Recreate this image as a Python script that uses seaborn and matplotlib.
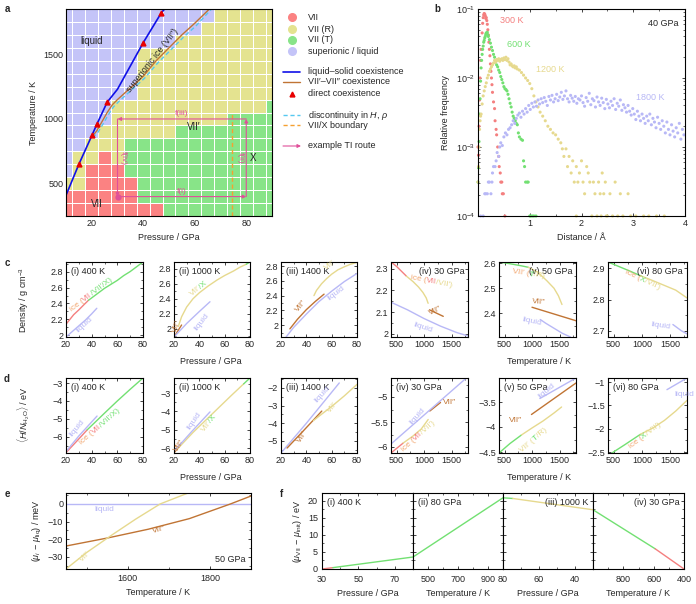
import numpy as np
import pandas as pd
import seaborn as sns
import matplotlib
matplotlib.use('Agg')
import matplotlib.pyplot as plt
from matplotlib import transforms
from matplotlib.colors import ListedColormap
from matplotlib.ticker import FuncFormatter, AutoMinorLocator

sns.set_style('ticks')
plt.rcParams['font.family'] = ['Liberation Sans', 'DejaVu Sans']
plt.rcParams['mathtext.fontset'] = 'custom'
plt.rcParams['mathtext.rm'] = 'Liberation Sans'
plt.rcParams['mathtext.it'] = 'Liberation Sans:italic'
plt.rcParams['font.size'] = 6.5

RED, YEL, GRN, LAV = '#f47f7f', '#e6d98e', '#72e072', '#b8b8f6'
BRN, BLU, CYN, ORG, MAG, ICE = '#c07434', '#1010e8', '#55c8f0', '#f5a030', '#e0509a', '#f2a872'
MAPCOL = ['#fb8282', '#e4e390', '#88e488', '#c4c4f8']

# ---------------- panel a: phase map ----------------
a_P = [10, 15, 20, 25, 30, 35, 40, 45, 50, 55, 60, 65, 70, 75, 80, 85, 90]
a_T = [1800, 1700, 1600, 1500, 1400, 1300, 1200, 1100, 1000, 900, 800, 700, 600, 500, 400, 300]
a_phase = ["LLLLLLLLLLLLYYYYY",
           "LLLLLLLLLLLYYYYYY",
           "LLLLLLLLLYYYYYYYY",
           "LLLLLLYYYYYYYYYYY",
           "LLLLLLYYYYYYYYYYY",
           "LLLLLLYYYYYYYYYYY",
           "LLLLLLYYYYYYYYYYY",
           "LLLLYYYYYYYYYYYYG",
           "LLLLYYYYYYYYYGGGG",
           "LLLYYYYYYGGGGGGGG",
           "LLYYYGGGGGGGGGGGG",
           "LYYRYGGGGGGGGGGGG",
           "LYRRRGGGGGGGGGGGG",
           "YYRRRRGGGGGGGGGGG",
           "RRRRRRGGGGGGGGGGG",
           "RRRRRRRRGGGGGGGGG"]
melt_P = [10, 15, 20, 22, 26, 30, 40, 47, 48.3]
melt_T = [410, 650, 870, 960, 1130, 1230, 1590, 1820, 1850]
direct_P = [15, 20, 22, 26, 40, 47]
direct_T = [650, 875, 960, 1130, 1590, 1820]
vii_P = [20, 22, 24, 26, 28, 30, 35, 40, 45, 50, 55, 60, 65.7]
vii_T = [860, 910, 980, 1050, 1110, 1150, 1240, 1330, 1450, 1550, 1650, 1740, 1850]
disc_P = [20.5, 22.5, 24.5, 26.5, 28.5, 30.5, 35.5, 40.5, 45.5, 50.5, 55.5, 60.5, 66.5]
disc_T = [855, 900, 965, 1035, 1095, 1135, 1225, 1315, 1430, 1530, 1630, 1720, 1850]
vx_P = [74.5, 74.5]
vx_T = [250, 1050]
route = [(30, 400), (80, 400), (80, 1000), (30, 1000), (30, 400)]

# ---------------- panel b: distance histograms ----------------
d300 = [0.01, 0.02, 0.03, 0.04, 0.05, 0.06, 0.08, 0.09, 0.10, 0.11, 0.12, 0.13, 0.14, 0.15, 0.16, 0.17,
        0.18, 0.19, 0.20, 0.21, 0.22, 0.23, 0.24, 0.25, 0.26, 0.27, 0.28, 0.30, 0.32, 0.33, 0.35, 0.36,
        0.38, 0.40, 0.41, 0.43, 0.44, 0.46, 0.47, 0.49, 0.52, 0.00]
f300 = [7.6e-4, 2e-3, 4.8e-3, 1e-2, 1.8e-2, 2.6e-2, 4.5e-2, 6.2e-2, 7.5e-2, 8.2e-2, 8.6e-2, 8.4e-2, 8e-2,
        7.3e-2, 7.5e-2, 6.8e-2, 6e-2, 5e-2, 4.2e-2, 3.3e-2, 2.6e-2, 2.1e-2, 1.6e-2, 1.25e-2, 1e-2, 8e-3,
        6.2e-3, 4.5e-3, 3.6e-3, 2.4e-3, 1.8e-3, 1.5e-3, 1e-3, 7.3e-4, 5.2e-4, 4.2e-4, 3.1e-4, 3.1e-4,
        2.1e-4, 2.1e-4, 1e-4, 1e-3]
d600 = [0.00, 0.01, 0.02, 0.03, 0.04, 0.05, 0.06, 0.07, 0.08, 0.09, 0.10, 0.11, 0.12, 0.13, 0.14, 0.15,
        0.16, 0.17, 0.18, 0.19, 0.20, 0.22, 0.24, 0.26, 0.28, 0.30, 0.32, 0.34, 0.36, 0.38, 0.40, 0.42,
        0.44, 0.46, 0.48, 0.50, 0.52, 0.54, 0.56, 0.58, 0.60, 0.62, 0.64, 0.66, 0.68, 0.70, 0.72, 0.74,
        0.76, 0.78, 0.80, 0.83, 0.86, 0.88, 0.90, 0.92, 0.95, 0.97, 1.00, 1.02, 1.05, 1.08, 1.12]
f600 = [3.1e-4, 5e-4, 1.2e-3, 3e-3, 5e-3, 9e-3, 1.4e-2, 1.8e-2, 2.2e-2, 2.6e-2, 2.9e-2, 3.3e-2, 3.5e-2,
        3.8e-2, 4e-2, 4.3e-2, 4.5e-2, 4.4e-2, 4.6e-2, 4.2e-2, 4e-2, 3.6e-2, 3.2e-2, 2.8e-2, 2.5e-2, 2.2e-2,
        2e-2, 1.7e-2, 1.55e-2, 1.45e-2, 1.3e-2, 1.2e-2, 1.05e-2, 9.5e-3, 8.5e-3, 7.5e-3, 7e-3, 6.8e-3,
        6.5e-3, 5.8e-3, 5e-3, 4.3e-3, 3.8e-3, 3.2e-3, 2.8e-3, 2.6e-3, 2.4e-3, 2.2e-3, 2.1e-3, 1.6e-3,
        1.4e-3, 1.3e-3, 1.25e-3, 6.3e-4, 5.2e-4, 3.1e-4, 3.1e-4, 3.1e-4, 1e-4, 1e-4, 1e-4, 1e-4, 1e-4]
d1200 = [0.00, 0.01, 0.02, 0.03, 0.04, 0.05, 0.06, 0.08, 0.10, 0.12, 0.14, 0.16, 0.18, 0.20, 0.22, 0.24,
         0.26, 0.28, 0.30, 0.32, 0.34, 0.36, 0.38, 0.40, 0.42, 0.44, 0.46, 0.48, 0.50, 0.52, 0.54, 0.56,
         0.58, 0.60, 0.62, 0.64, 0.66, 0.68, 0.70, 0.72, 0.74, 0.76, 0.80, 0.84, 0.88, 0.92, 0.96, 1.00,
         1.04, 1.08, 1.12, 1.16, 1.20, 1.25, 1.30, 1.35, 1.40, 1.45, 1.50, 1.55, 1.60, 1.63, 1.66, 1.70,
         1.73, 1.76, 1.80, 1.83, 1.86, 1.90, 1.93, 1.96, 2.00, 2.03, 2.06, 2.10, 2.13, 2.16, 2.20, 2.23,
         2.26, 2.30, 2.33, 2.36, 2.40, 2.43, 2.46, 2.50, 2.55, 2.60, 2.65, 2.70, 2.75, 2.80, 2.90, 2.95,
         3.05, 3.20, 3.30, 3.45, 3.60, 1.90, 2.38, 2.48]
f1200 = [3.1e-4, 5.2e-4, 1e-3, 1.8e-3, 2.4e-3, 2.8e-3, 3e-3, 4.2e-3, 5.5e-3, 6.5e-3, 7.5e-3, 8.5e-3, 1e-2,
         1.1e-2, 1.25e-2, 1.35e-2, 1.45e-2, 1.55e-2, 1.65e-2, 1.8e-2, 1.7e-2, 1.85e-2, 1.8e-2, 1.9e-2,
         1.75e-2, 1.85e-2, 1.9e-2, 1.8e-2, 1.95e-2, 1.85e-2, 2e-2, 1.8e-2, 1.9e-2, 1.7e-2, 1.55e-2, 1.6e-2,
         1.5e-2, 1.45e-2, 1.5e-2, 1.4e-2, 1.45e-2, 1.35e-2, 1.3e-2, 1.2e-2, 1.1e-2, 1e-2, 9.2e-3, 8.3e-3,
         7e-3, 5.5e-3, 4.5e-3, 3.8e-3, 3.2e-3, 2.8e-3, 2.4e-3, 2e-3, 1.8e-3, 1.6e-3, 1.5e-3, 1.3e-3,
         1.15e-3, 9.4e-4, 7.3e-4, 9.4e-4, 5.2e-4, 7.3e-4, 4.2e-4, 6.3e-4, 3.1e-4, 5.2e-4, 3.1e-4, 4.2e-4,
         6.3e-4, 3.1e-4, 2.1e-4, 5.2e-4, 4.2e-4, 3.1e-4, 1e-4, 3.1e-4, 2.1e-4, 1e-4, 3.1e-4, 2.1e-4,
         4.2e-4, 2.1e-4, 3.1e-4, 1e-4, 2.1e-4, 1e-4, 3.1e-4, 1e-4, 2.1e-4, 1e-4, 2.1e-4, 1e-4, 1e-4, 1e-4,
         1e-4, 1e-4, 1e-4, 1e-4, 1e-4, 1e-4]
d1800 = [0.05, 0.10, 0.13, 0.15, 0.18, 0.20, 0.22, 0.25, 0.27, 0.28, 0.30, 0.33, 0.35, 0.37, 0.40, 0.42,
         0.44, 0.47, 0.50, 0.53, 0.56, 0.59, 0.62, 0.65, 0.68, 0.71, 0.74, 0.77, 0.80, 0.83, 0.86, 0.89,
         0.92, 0.95, 0.98, 1.01, 1.04, 1.07, 1.10, 1.13, 1.16, 1.19, 1.22, 1.25, 1.28, 1.31, 1.34, 1.37,
         1.40, 1.43, 1.46, 1.49, 1.52, 1.55, 1.58, 1.61, 1.64, 1.67, 1.70, 1.73, 1.76, 1.79, 1.82, 1.85,
         1.88, 1.91, 1.94, 1.97, 2.00, 2.03, 2.06, 2.09, 2.12, 2.15, 2.18, 2.21, 2.24, 2.27, 2.30, 2.33,
         2.36, 2.39, 2.42, 2.45, 2.48, 2.51, 2.54, 2.57, 2.60, 2.63, 2.66, 2.69, 2.72, 2.75, 2.78, 2.81,
         2.84, 2.87, 2.90, 2.93, 2.96, 2.99, 3.02, 3.05, 3.08, 3.11, 3.14, 3.17, 3.20, 3.23, 3.26, 3.29,
         3.32, 3.35, 3.38, 3.41, 3.44, 3.47, 3.50, 3.53, 3.56, 3.59, 3.62, 3.65, 3.68, 3.71, 3.74, 3.77,
         3.80, 3.83, 3.86, 3.89, 3.92, 3.95, 3.98]
f1800 = [1e-4, 1e-4, 2.1e-4, 2.1e-4, 2.1e-4, 3.1e-4, 3.1e-4, 2.1e-4, 3.1e-4, 4.2e-4, 5.2e-4, 5.2e-4, 6.3e-4,
         8.3e-4, 7.3e-4, 1e-3, 1.15e-3, 1.05e-3, 1.4e-3, 1.6e-3, 1.5e-3, 1.8e-3, 1.9e-3, 2.1e-3, 2.4e-3,
         2.2e-3, 2.6e-3, 2.9e-3, 3.1e-3, 2.7e-3, 3.3e-3, 3e-3, 3.6e-3, 3.2e-3, 4e-3, 3.5e-3, 4.3e-3, 3.8e-3,
         4.5e-3, 3.9e-3, 4.8e-3, 4.2e-3, 5e-3, 4.4e-3, 5.2e-3, 4.6e-3, 4e-3, 5.4e-3, 4.8e-3, 5.6e-3, 4.5e-3,
         5e-3, 5.8e-3, 4.7e-3, 5.3e-3, 6.2e-3, 4.9e-3, 5.5e-3, 6.5e-3, 5e-3, 4.5e-3, 5.6e-3, 5.1e-3, 4.6e-3,
         5.4e-3, 4.3e-3, 5e-3, 4.8e-3, 5.5e-3, 4.4e-3, 3.9e-3, 5.2e-3, 4.6e-3, 6e-3, 4.1e-3, 5e-3, 4.7e-3,
         3.8e-3, 5.3e-3, 4.5e-3, 4e-3, 5.1e-3, 4.4e-3, 3.6e-3, 4.9e-3, 4.2e-3, 3.7e-3, 4.6e-3, 4e-3, 5e-3,
         3.5e-3, 4.3e-3, 3.9e-3, 4.8e-3, 3.4e-3, 4.1e-3, 3.7e-3, 3.2e-3, 4e-3, 3.3e-3, 2.9e-3, 3.6e-3, 3e-3,
         2.5e-3, 3.3e-3, 2.8e-3, 2.4e-3, 3e-3, 2.6e-3, 2.2e-3, 2.8e-3, 2.4e-3, 3e-3, 2.1e-3, 2.6e-3, 2.3e-3,
         1.9e-3, 2.7e-3, 2.2e-3, 1.8e-3, 2.4e-3, 2e-3, 1.6e-3, 2.3e-3, 1.8e-3, 1.5e-3, 2.1e-3, 1.7e-3,
         1.4e-3, 1.9e-3, 1.6e-3, 2.2e-3, 1.3e-3, 1.8e-3, 1.5e-3]

# ---------------- panel c: density ----------------
c_lines = [
    [([20, 23, 26, 30, 34, 37.5], [2.14, 2.20, 2.26, 2.32, 2.385, 2.44], RED),
     ([37.5, 45, 50, 55, 60, 65, 70, 75, 80], [2.44, 2.53, 2.59, 2.64, 2.69, 2.75, 2.80, 2.86, 2.92], GRN),
     ([20, 25, 30, 35, 40, 44], [1.98, 2.05, 2.12, 2.19, 2.27, 2.34], LAV)],
    [([20, 23, 26], [1.89, 1.97, 2.05], BRN),
     ([23.4, 26, 30, 35, 40, 47, 54, 60, 67, 72, 77], [2.03, 2.16, 2.29, 2.40, 2.48, 2.57, 2.65, 2.71, 2.77, 2.82, 2.86], YEL),
     ([77, 80], [2.86, 2.89], GRN),
     ([20, 30, 40, 48.4], [1.89, 2.07, 2.23, 2.36], LAV)],
    [([27, 33, 40, 47, 54], [1.95, 2.08, 2.21, 2.32, 2.42], BRN),
     ([46, 48, 52, 56, 60, 65, 70, 75, 80], [2.40, 2.47, 2.56, 2.63, 2.69, 2.75, 2.79, 2.825, 2.85], YEL),
     ([24, 30, 40, 50, 60, 70, 80], [1.84, 1.97, 2.15, 2.32, 2.46, 2.59, 2.70], LAV)],
    [([400, 500, 600, 680], [2.33, 2.31, 2.285, 2.265], RED),
     ([680, 800, 900, 980, 1040, 1075], [2.265, 2.24, 2.215, 2.19, 2.165, 2.14], YEL),
     ([1100, 1350], [2.11, 2.08], BRN),
     ([400, 700, 1000, 1300, 1600, 1800], [2.145, 2.11, 2.07, 2.035, 2.005, 1.99], LAV)],
    [([400, 600, 800, 930], [2.605, 2.598, 2.59, 2.584], GRN),
     ([930, 1100, 1270, 1400, 1480, 1545], [2.584, 2.565, 2.53, 2.50, 2.47, 2.435], YEL),
     ([1000, 1400, 1800], [2.424, 2.397, 2.37], BRN),
     ([1150, 1250, 1400, 1550, 1700], [2.375, 2.36, 2.34, 2.32, 2.305], LAV)],
    [([400, 600, 800, 990], [2.92, 2.905, 2.89, 2.875], GRN),
     ([990, 1200, 1400, 1600, 1800], [2.875, 2.86, 2.845, 2.83, 2.805], YEL),
     ([1550, 1700, 1800], [2.72, 2.70, 2.69], LAV)],
]
c_ylims = [(1.98, 2.92), (1.89, 2.89), (1.84, 2.855), (1.985, 2.33), (2.305, 2.605), (2.68, 2.92)]
c_yticks = [[2, 2.2, 2.4, 2.6, 2.8]] * 3 + [[2, 2.1, 2.2, 2.3], [2.4, 2.5, 2.6], [2.7, 2.8, 2.9]]
titles_T = ['(i) 400 K', '(ii) 1000 K', '(iii) 1400 K']
titles_P = ['(iv) 30 GPa', '(v) 50 GPa', '(vi) 80 GPa']

# ---------------- panel d: enthalpy ----------------
d_lines = [
    [([20, 28, 36.5], [-6.88, -6.27, -5.61], RED),
     ([36.5, 50, 60, 70, 80], [-5.61, -4.68, -4.0, -3.35, -2.72], GRN),
     ([20.8, 30, 44.2], [-6.75, -5.95, -4.84], LAV)],
    [([20, 23, 26], [-6.27, -6.0, -5.7], BRN),
     ([22, 35, 50, 65, 75], [-6.1, -5.15, -4.15, -3.15, -2.5], YEL),
     ([75, 80], [-2.5, -2.18], GRN),
     ([20, 34, 48.4], [-6.18, -5.1, -4.03], LAV)],
    [([20.5, 40, 66], [-5.64, -4.0, -1.72], LAV),
     ([24.8, 38, 52.2], [-5.4, -4.4, -3.31], BRN),
     ([45.6, 50, 60, 70, 80], [-3.85, -3.6, -3.05, -2.45, -1.8], YEL)],
    [([400, 500, 623], [-6.12, -6.03, -5.92], RED),
     ([623, 800, 950, 1076], [-5.92, -5.78, -5.64, -5.45], YEL),
     ([1106, 1300], [-5.28, -5.11], BRN),
     ([400, 1770], [-5.94, -4.62], LAV)],
    [([400, 600, 808], [-4.52, -4.33, -4.16], GRN),
     ([808, 1000, 1200, 1400, 1538], [-4.16, -4.02, -3.88, -3.72, -3.6], YEL),
     ([990, 1800], [-3.75, -3.12], BRN),
     ([1143, 1800], [-3.43, -3.02], LAV)],
    [([470, 700, 973], [-2.52, -2.34, -2.12], GRN),
     ([973, 1200, 1400, 1600, 1800], [-2.12, -1.98, -1.82, -1.62, -1.39], YEL),
     ([1445, 1800], [-1.16, -0.91], LAV)],
]
d_ylims = [(-6.9, -2.72), (-6.27, -2.18), (-5.68, -1.44), (-6.12, -4.62), (-4.52, -3.02), (-2.52, -0.91)]
d_yticks = [[-6, -5, -4, -3], [-6, -5, -4, -3], [-5, -4, -3, -2], [-6, -5.5, -5], [-4.5, -4, -3.5],
            [-2.5, -2, -1.5, -1]]

# ---------------- panel e ----------------
e_liq_T, e_liq_mu = [1450, 1900], [0, 0]
e_brn_T, e_brn_mu = [1450, 1550, 1650, 1750, 1850, 1900], [-23.8, -19.3, -14.3, -8.3, 0, 4.5]
e_yel_T, e_yel_mu = [1450, 1500, 1562, 1620, 1679, 1747], [-36.8, -27.5, -17.5, -8.5, 0, 6.2]

# ---------------- panel f ----------------
f_lines = [
    [([30, 36], [0, 0.4], RED), ([36, 80], [0.4, 3.5], GRN)],
    [([400, 1000], [3.5, 20.8], GRN)],
    [([80, 74.5], [20.8, 20.6], GRN), ([74.5, 30], [20.6, 17.3], YEL)],
    [([1000, 590], [17.3, 5.9], GRN), ([590, 400], [5.9, 0], RED)],
]
f_xlims = [(30, 80), (400, 1000), (80, 30), (1000, 400)]
f_xticks = [[30, 50, 70], [500, 700, 900], [80, 60, 40], [800, 600, 400]]
f_titles = ['(i) 400 K', '(ii) 80 GPa', '(iii) 1000 K', '(iv) 30 GPa']
f_xlabels = ['Pressure / GPa', 'Temperature / K', 'Pressure / GPa', 'Temperature / K']

W, H = 696, 604
fig = plt.figure(figsize=(W / 100, H / 100), dpi=100)
fmt = FuncFormatter(lambda v, p: f'{v:g}'.replace('-', '\u2212'))


def px_ax(x0, y0, x1, y1):
    return fig.add_axes([x0 / W, 1 - y1 / H, (x1 - x0) / W, (y1 - y0) / H])


def style(ax, minor=True):
    ax.tick_params(direction='in', top=True, right=True, length=2.5, width=0.6, labelsize=6.5, pad=2)
    if minor:
        ax.xaxis.set_minor_locator(AutoMinorLocator(2))
        ax.yaxis.set_minor_locator(AutoMinorLocator(2))
    ax.tick_params(which='minor', direction='in', top=True, right=True, length=1.5, width=0.5)
    for s in ax.spines.values():
        s.set_linewidth(0.8)
        s.set_color('black')


def curve(ax, x, y, c, lw=1.0, ls='-'):
    sns.lineplot(x=x, y=y, ax=ax, color=c, lw=lw, linestyle=ls, sort=False, estimator=None, legend=False)


def ctext(ax, x, y, parts, rot=0, size=6):
    r = fig.canvas.get_renderer()
    a = np.deg2rad(rot)
    off = 0.0
    for s, c in parts:
        tr = transforms.offset_copy(ax.transData, fig=fig, x=off * np.cos(a), y=off * np.sin(a), units='points')
        ax.text(x, y, s, color=c, fontsize=size, rotation=rot, rotation_mode='anchor',
                ha='left', va='baseline', transform=tr)
        probe = fig.text(0, 0, s, fontsize=size)
        off += probe.get_window_extent(r).width * 72 / fig.dpi
        probe.remove()


# ---------- a ----------
axa = px_ax(66, 9, 272, 216)
codes = {'R': 0, 'Y': 1, 'G': 2, 'L': 3}
grid = np.array([[codes[ch] for ch in row] for row in a_phase[::-1]])
Pc, Tc = np.array(a_P, float), np.array(a_T[::-1], float)
Pe = np.concatenate([[10], (Pc[:-1] + Pc[1:]) / 2, [90]])
Te = np.concatenate([[250], (Tc[:-1] + Tc[1:]) / 2, [1850]])
axa.pcolormesh(Pe, Te, grid, cmap=ListedColormap(MAPCOL), vmin=-0.5, vmax=3.5,
               edgecolors='white', linewidth=0.4)
curve(axa, melt_P, melt_T, BLU, lw=1.2)
curve(axa, vii_P, vii_T, BRN, lw=1.0)
curve(axa, disc_P, disc_T, CYN, lw=1.0, ls=(0, (3, 2)))
curve(axa, vx_P, vx_T, ORG, lw=1.0, ls=(0, (3, 2)))
axa.plot(direct_P, direct_T, ls='none', marker='^', color='#e80000', ms=3.5)
for (x0, y0), (x1, y1) in zip(route[:-1], route[1:]):
    axa.annotate('', xy=(x1, y1), xytext=(x0, y0),
                 arrowprops=dict(arrowstyle='-|>', color=MAG, lw=0.8, mutation_scale=5, shrinkA=0, shrinkB=0))
axa.plot(30, 400, marker='o', color=MAG, ms=3.5)
axa.text(55, 415, 'f(i)', color=MAG, fontsize=6, ha='center', va='bottom')
axa.text(55, 1015, 'f(iii)', color=MAG, fontsize=6, ha='center', va='bottom')
axa.text(77.6, 700, 'f(ii)', color=MAG, fontsize=6, ha='center', va='center', rotation=270)
axa.text(32.3, 700, 'f(iv)', color=MAG, fontsize=6, ha='center', va='center', rotation=270)
axa.text(20, 1600, 'liquid', fontsize=7, ha='center', va='center')
axa.text(43.5, 1455, 'superionic ice (VII\u2033)', fontsize=6.5, ha='center', va='center', rotation=52,
         rotation_mode='anchor')
axa.text(59.5, 935, 'VII\u2032', fontsize=7, ha='center', va='center')
axa.text(22, 345, 'VII', fontsize=7, ha='center', va='center')
axa.text(82.5, 700, 'X', fontsize=7, ha='center', va='center')
axa.set_xlim(10, 90)
axa.set_ylim(250, 1850)
axa.set_xticks([20, 40, 60, 80])
axa.set_yticks([500, 1000, 1500])
axa.set_xlabel('Pressure / GPa', fontsize=6.5, labelpad=4)
axa.set_ylabel('Temperature / K', fontsize=6.5, labelpad=4)
style(axa, minor=False)

# ---------- b ----------
axb = px_ax(478, 9, 685, 216)
dfb = pd.concat([pd.DataFrame({'d': d300, 'f': f300, 'T': '300 K'}),
                 pd.DataFrame({'d': d600, 'f': f600, 'T': '600 K'}),
                 pd.DataFrame({'d': d1200, 'f': f1200, 'T': '1200 K'}),
                 pd.DataFrame({'d': d1800, 'f': f1800, 'T': '1800 K'})])
bpal = {'300 K': RED, '600 K': GRN, '1200 K': YEL, '1800 K': LAV}
sns.scatterplot(data=dfb, x='d', y='f', hue='T', palette=bpal, s=5, linewidth=0, legend=False,
                ax=axb, clip_on=False)
axb.set_yscale('log')
axb.set_xlim(0, 4)
axb.set_ylim(1e-4, 1e-1)
axb.set_xticks([1, 2, 3, 4])
axb.set_xlabel('Distance / \u00c5', fontsize=6.5, labelpad=4)
axb.set_ylabel('Relative frequency', fontsize=6.5, labelpad=4)
for lab, x, y in [('300 K', 0.42, 0.068), ('600 K', 0.56, 0.031), ('1200 K', 1.13, 0.0135),
                  ('1800 K', 3.05, 0.0052)]:
    axb.text(x, y, lab, color=bpal[lab], fontsize=6.5, va='center')
axb.text(0.97, 0.95, '40 GPa', transform=axb.transAxes, ha='right', va='top', fontsize=6.5)
style(axb, minor=False)
axb.xaxis.set_minor_locator(AutoMinorLocator(2))

# ---------- c, d ----------
xcols = [(66, 143), (174, 250), (281, 357), (391, 468), (499, 576), (608, 687)]
row_axes = []
for r, (lines, ylims, yticks, ytop, ybot) in enumerate([(c_lines, c_ylims, c_yticks, 262, 337),
                                                        (d_lines, d_ylims, d_yticks, 378, 453)]):
    axs = []
    for i, (x0, x1) in enumerate(xcols):
        ax = px_ax(x0, ytop, x1, ybot)
        for xs, ys, col in lines[i]:
            curve(ax, xs, ys, col, lw=1.0)
        if i < 3:
            ax.set_xlim(20, 80)
            ax.set_xticks([20, 40, 60, 80])
        else:
            ax.set_xlim(400, 1800)
            ax.set_xticks([500, 1000, 1500])
        ax.set_ylim(*ylims[i])
        ax.set_yticks(yticks[i])
        ax.yaxis.set_major_formatter(fmt)
        ax.set_xlabel('')
        ax.set_ylabel('')
        style(ax)
        t = (titles_T + titles_P)[i]
        if r == 0 and i >= 3:
            ax.text(0.95, 0.94, t, transform=ax.transAxes, ha='right', va='top', fontsize=6.5)
        else:
            ax.text(0.06, 0.94, t, transform=ax.transAxes, ha='left', va='top', fontsize=6.5)
        axs.append(ax)
    row_axes.append(axs)

c = row_axes[0]
ctext(c[0], 24.5, 2.30, [('ice (', ICE), ('VII', RED), ('/VII\u2032/X)', GRN)], rot=37)
ctext(c[0], 29.5, 2.04, [('liquid', LAV)], rot=42)
ctext(c[1], 21.3, 1.94, [('VII\u2033', BRN)], rot=70)
ctext(c[1], 34, 2.43, [('VII\u2032', YEL), ('/X', GRN)], rot=40)
ctext(c[1], 38, 1.97, [('liquid', LAV)], rot=52)
ctext(c[2], 33.4, 2.18, [('VII\u2033', BRN)], rot=50)
ctext(c[2], 55.4, 2.74, [('VII\u2032', YEL)], rot=35)
ctext(c[2], 58, 2.34, [('liquid', LAV)], rot=37)
ctext(c[3], 745, 2.25, [('ice (', ICE), ('VII', RED), ('/VII\u2032)', YEL)], rot=-10)
ctext(c[3], 1110, 2.085, [('VII\u2033', BRN)], rot=25)
ctext(c[3], 800, 2.035, [('liquid', LAV)], rot=-18)
ctext(c[4], 636, 2.56, [('VII\u2032 (', ICE), ('T', GRN), ('/R)', YEL)], rot=-8)
ctext(c[4], 1000, 2.44, [('VII\u2033', BRN)], rot=-5)
ctext(c[4], 818, 2.37, [('liquid', LAV)], rot=-12)
ctext(c[5], 690, 2.885, [('ice (', ICE), ('X', GRN), ('/VII\u2032)', YEL)], rot=-25)
ctext(c[5], 1150, 2.715, [('liquid', LAV)], rot=-8)

d = row_axes[1]
ctext(d[0], 24.7, -5.98, [('liquid', LAV)], rot=50)
ctext(d[0], 32.5, -6.44, [('ice (', ICE), ('VII', RED), ('/VII\u2032/X)', GRN)], rot=42)
ctext(d[1], 22, -6.2, [('VII\u2033', BRN)], rot=55)
ctext(d[1], 32.6, -5.0, [('liquid', LAV)], rot=55)
ctext(d[1], 43.4, -5.1, [('VII\u2032', YEL), ('/X', GRN)], rot=50)
ctext(d[2], 35, -5.12, [('VII\u2033', BRN)], rot=55)
ctext(d[2], 48.3, -2.84, [('liquid', LAV)], rot=48)
ctext(d[2], 58.8, -3.44, [('VII\u2032', YEL)], rot=50)
ctext(d[3], 623, -6.09, [('ice (', ICE), ('VII', RED), ('/VII\u2032)', YEL)], rot=42)
ctext(d[3], 774, -5.56, [('liquid', LAV)], rot=48)
ctext(d[3], 1347, -5.15, [('VII\u2033', BRN)], rot=0)
ctext(d[4], 820, -4.5, [('VII\u2032 (', YEL), ('T', GRN), ('/R)', YEL)], rot=40)
ctext(d[4], 582, -3.89, [('VII\u2033', BRN)], rot=0)
ctext(d[4], 1143, -3.43, [('liquid', LAV)], rot=40)
ctext(d[5], 796, -2.42, [('ice (', ICE), ('X', GRN), ('/VII\u2032)', YEL)], rot=37)
ctext(d[5], 1583, -1.3, [('liquid', LAV)], rot=0)

# ---------- e ----------
axe = px_ax(66, 493, 251, 569)
curve(axe, e_liq_T, e_liq_mu, LAV)
curve(axe, e_brn_T, e_brn_mu, BRN)
curve(axe, e_yel_T, e_yel_mu, YEL)
axe.set_xlim(1450, 1900)
axe.set_ylim(-36.8, 6.2)
axe.set_xticks([1600, 1800])
axe.set_yticks([0, -10, -20, -30])
axe.yaxis.set_major_formatter(fmt)
axe.set_xlabel('Temperature / K', fontsize=6.5, labelpad=4)
axe.set_ylabel(r'$(\mu_i\,-\,\mu_\mathrm{liq})$ / meV', fontsize=6.5, labelpad=3)
style(axe)
axe.tick_params(axis='x', pad=3.5)
ctext(axe, 1518, -4.2, [('liquid', LAV)])
ctext(axe, 1662, -16.5, [('VII\u2033', BRN)], rot=15)
ctext(axe, 1490, -33, [('VII\u2032', YEL)], rot=45)
axe.text(0.97, 0.06, '50 GPa', transform=axe.transAxes, ha='right', va='bottom', fontsize=6.5)

# ---------- f ----------
fx = [322, 413, 503, 593, 684]
for i in range(4):
    ax = px_ax(fx[i], 493, fx[i + 1], 569)
    for xs, ys, col in f_lines[i]:
        curve(ax, xs, ys, col, lw=1.0)
    ax.set_xlim(*f_xlims[i])
    ax.set_ylim(0, 22.2)
    ax.set_xticks(f_xticks[i])
    ax.set_yticks([0, 5, 10, 15, 20])
    ax.set_xlabel(f_xlabels[i], fontsize=6.5, labelpad=4)
    ax.set_ylabel('')
    style(ax)
    ax.tick_params(axis='x', pad=4)
    if i == 0:
        ax.set_ylabel(r'$(\mu_\mathrm{VII}\,-\,\mu_\mathrm{init})$ / eV', fontsize=6.5, labelpad=3)
        ax.tick_params(axis='y', pad=3)
    else:
        ax.tick_params(labelleft=False)
    if i < 2:
        ax.text(0.06, 0.94, f_titles[i], transform=ax.transAxes, ha='left', va='top', fontsize=6.5)
    else:
        ax.text(0.95, 0.94, f_titles[i], transform=ax.transAxes, ha='right', va='top', fontsize=6.5)

# ---------- overlay: legend of a, letters, shared labels ----------
ov = fig.add_axes([0, 0, 1, 1])
ov.set_xlim(0, W)
ov.set_ylim(H, 0)
ov.axis('off')
leg_dots = [('VII', MAPCOL[0], 17), ('VII (R)', MAPCOL[1], 29), ('VII (T)', MAPCOL[2], 40),
            ('superionic / liquid', MAPCOL[3], 51)]
for lab, col, y in leg_dots:
    ov.plot(292, y, marker='o', color=col, ms=5.5)
    ov.text(308, y, lab, va='center', fontsize=6.5)
ov.plot([283, 300], [72, 72], color=BLU, lw=1.2)
ov.text(308, 72, 'liquid\u2013solid coexistence', va='center', fontsize=6.5)
ov.plot([283, 300], [82, 82], color=BRN, lw=1.0)
ov.text(308, 82, 'VII\u2032\u2013VII\u2033 coexistence', va='center', fontsize=6.5)
ov.plot(292, 94, marker='^', color='#e80000', ms=3.5)
ov.text(308, 94, 'direct coexistence', va='center', fontsize=6.5)
ov.plot([283, 300], [115, 115], color=CYN, lw=1.0, ls=(0, (3, 2)))
ov.text(308, 115, r'discontinuity in $H$, $\rho$', va='center', fontsize=6.5)
ov.plot([283, 300], [125, 125], color=ORG, lw=1.0, ls=(0, (3, 2)))
ov.text(308, 125, 'VII/X boundary', va='center', fontsize=6.5)
ov.annotate('', xy=(301, 146), xytext=(283, 146),
            arrowprops=dict(arrowstyle='-|>', color=MAG, lw=0.8, mutation_scale=5, shrinkA=0, shrinkB=0))
ov.text(308, 146, 'example TI route', va='center', fontsize=6.5)

for lab, x, y in [('a', 7, 9), ('b', 437, 9), ('c', 7, 263), ('d', 7, 379), ('e', 7, 494), ('f', 282, 494)]:
    ov.text(x, y, lab, fontsize=7, fontweight='bold', ha='center', va='center')
ov.text(211, 361, 'Pressure / GPa', ha='center', va='center', fontsize=6.5)
ov.text(539, 361, 'Temperature / K', ha='center', va='center', fontsize=6.5)
ov.text(211, 478, 'Pressure / GPa', ha='center', va='center', fontsize=6.5)
ov.text(539, 478, 'Temperature / K', ha='center', va='center', fontsize=6.5)
ov.text(24, 300, r'Density / g cm$^{-3}$', rotation=90, ha='center', va='center', fontsize=6.5)
ov.text(24, 415, r'$\langle H/N_{\mathrm{H_2O}}\rangle$ / eV', rotation=90, ha='center', va='center',
        fontsize=6.5)

fig.savefig('out.png', dpi=100)
